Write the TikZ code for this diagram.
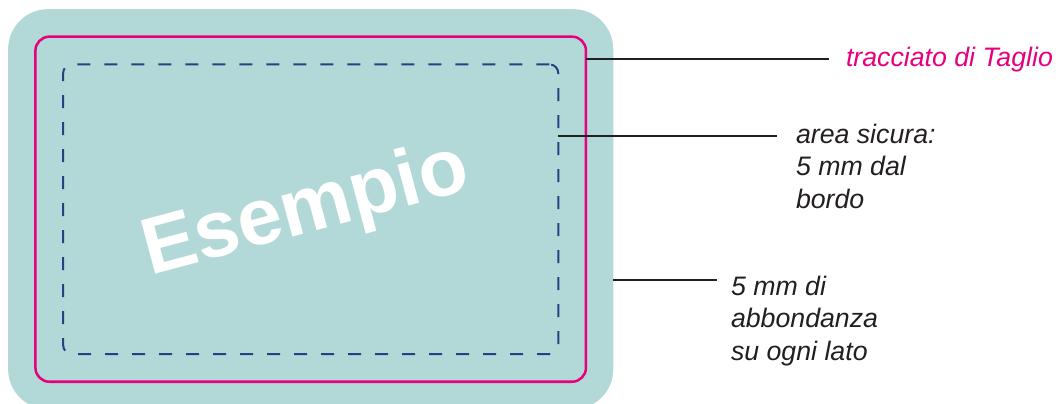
\documentclass[tikz,border=0pt]{standalone}
\usepackage{fontspec}
\setmainfont{Liberation Sans}
\usepackage{xcolor}
\definecolor{bleed}{HTML}{B2D9D8}
\definecolor{cutline}{HTML}{E5007D}
\definecolor{safeline}{HTML}{27407F}
\definecolor{ink}{HTML}{231F20}
\usepackage{tikz}

\begin{document}
\begin{tikzpicture}[%
    x=0.025cm,
    y=0.025cm,
    every node/.style={inner sep=0, outer sep=0},
    bleedbox/.style={
        fill=bleed,
        rounded corners=1cm,
        minimum width=15.125cm,
        minimum height=10cm,
    },
    cutbox/.style={
        draw=cutline,
        line width=0.0625cm,
        rounded corners=0.35cm,
        minimum width=13.76cm,
        minimum height=8.625cm,
    },
    safebox/.style={
        draw=safeline,
        line width=0.05cm,
        dash pattern=on 0.325cm off 0.35cm,
        rounded corners=0.22cm,
        minimum width=12.375cm,
        minimum height=7.24cm,
    },
    watermark/.style={
        text=white,
        font=\bfseries\fontsize{57pt}{60pt}\selectfont,
        rotate=15,
    },
    note/.style={
        anchor=base west,
        align=left,
        text=ink,
        font=\itshape\fontsize{19pt}{22.8pt}\selectfont,
    },
    leader/.style={
        draw=ink,
        line width=0.07cm,
    },
]

\useasboundingbox (0, 0) rectangle (1056, 403);
\clip (0, 0) rectangle (1056, 403);

% card
\node [bleedbox] (bleed) at (310.7, 193.8) {};
\node [cutbox]   (cut)   at (bleed) {};
\node [safebox]  (safe)  at (bleed) {};
\node [watermark] (esempio) at (306, 191) {Esempio};

% leader ends
\coordinate (cutend)   at (829, 344);
\coordinate (safeend)  at (777, 267);
\coordinate (bleedend) at (717, 123);

% notes (base = last line)
\node [note, text=cutline] (cutnote) at (846, 336.3) {tracciato di Taglio};
\node [note] (safenote) at (796, 195) {area sicura:\\5 mm dal\\bordo};
\node [note] (bleednote) at (731, 43) {5 mm di\\abbondanza\\su ogni lato};

\draw [leader] (cut.east |- cutend) -- (cutend);
\draw [leader] (safe.east |- safeend) -- (safeend);
\draw [leader] (bleed.east |- bleedend) -- (bleedend);

\end{tikzpicture}
\end{document}
